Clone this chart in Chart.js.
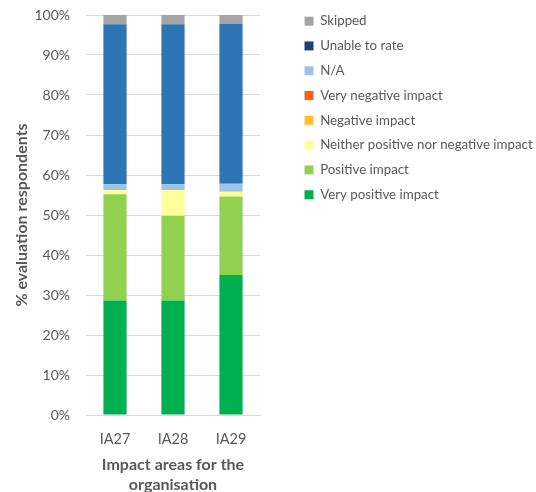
<!DOCTYPE html>
<html lang="en">
<head>
    <meta charset="UTF-8">
    <title>Impact areas for the organisation</title>
    <script src="https://cdn.jsdelivr.net/npm/chart.js"></script>
    <style>
        html, body { margin: 0; padding: 0; background: #fff; }
        #wrap { width: 536px; height: 492px; }
    </style>
</head>
<body>
    <div id="wrap"><canvas id="impactChart"></canvas></div>
    <script>
        // categories and series (% of evaluation respondents), bottom of the stack first
        const categories = ["IA27", "IA28", "IA29"];
        const veryPositive = [28.6, 28.6, 35.0];
        const positive = [26.6, 21.2, 19.6];
        const neither = [1.0, 6.4, 1.2];
        const negative = [0, 0, 0];
        const veryNegative = [0, 0, 0];
        const notApplicable = [1.5, 1.5, 2.0];
        const unableToRate = [40.0, 40.0, 40.0];
        const skipped = [2.3, 2.3, 2.3];
        const yTicks = [0, 10, 20, 30, 40, 50, 60, 70, 80, 90, 100];

        const seriesNames = ["Very positive impact", "Positive impact", "Neither positive nor negative impact",
            "Negative impact", "Very negative impact", "N/A", "Unable to rate", "Skipped"];
        const seriesValues = [veryPositive, positive, neither, negative, veryNegative, notApplicable, unableToRate, skipped];
        const barColors = ["#00b050", "#92d050", "#ffff99", "#ffc02b", "#ff5b1a", "#9dc3e6", "#2e75b6", "#a5a5a5"];
        const legendColors = ["#00b050", "#92d050", "#ffff99", "#ffc02b", "#ff5b1a", "#9dc3e6", "#203f7a", "#a5a5a5"];

        const fontFamily = "Lato, 'Open Sans', sans-serif";
        const textColor = "#595959";

        // put the legend next to the plot, like the original
        const legendPlace = {
            id: "legendPlace",
            beforeInit(chart) {
                const fit = chart.legend.fit;
                chart.legend.fit = function () {
                    fit.call(this);
                    this.width = 276;
                };
            },
            afterLayout(chart) {
                chart.legend.left += 33;
                chart.legend.right += 33;
                chart.legend.top += 3;
                chart.legend.bottom += 3;
            }
        };

        new Chart(document.getElementById("impactChart"), {
            type: "bar",
            data: {
                labels: categories,
                datasets: seriesNames.map((name, i) => ({
                    label: name,
                    data: seriesValues[i],
                    backgroundColor: barColors[i],
                    borderWidth: 0,
                    categoryPercentage: 1,
                    barPercentage: 0.4
                }))
            },
            options: {
                responsive: true,
                maintainAspectRatio: false,
                animation: false,
                layout: { padding: 0 },
                plugins: {
                    tooltip: { enabled: false },
                    legend: {
                        position: "right",
                        align: "start",
                        reverse: true,
                        labels: {
                            boxWidth: 9,
                            boxHeight: 9,
                            padding: 11.5,
                            color: textColor,
                            font: { family: fontFamily, size: 13.3 },
                            generateLabels(chart) {
                                const items = Chart.defaults.plugins.legend.labels.generateLabels(chart);
                                items.forEach(it => {
                                    it.fillStyle = legendColors[it.datasetIndex];
                                    it.strokeStyle = legendColors[it.datasetIndex];
                                    it.lineWidth = 0;
                                });
                                return items;
                            }
                        }
                    }
                },
                scales: {
                    x: {
                        stacked: true,
                        afterFit(axis) { axis.height = 77; },
                        grid: { display: false },
                        border: { color: "#d9d9d9" },
                        ticks: { color: textColor, font: { family: fontFamily, size: 14.5 }, padding: 8 },
                        title: {
                            display: true,
                            text: ["Impact areas for the", "organisation"],
                            color: textColor,
                            font: { family: fontFamily, size: 16, weight: "bold", lineHeight: 1.2 },
                            padding: { top: 0, bottom: -2 }
                        }
                    },
                    y: {
                        stacked: true,
                        min: 0,
                        max: 100,
                        afterFit(axis) {
                            axis.width = 86;
                            axis.paddingTop = 15;
                            axis.paddingBottom = 0;
                        },
                        afterBuildTicks(axis) {
                            axis.ticks = yTicks.map(v => ({ value: v }));
                        },
                        grid: { color: "#d9d9d9", drawTicks: false },
                        border: { display: false },
                        ticks: {
                            color: textColor,
                            font: { family: fontFamily, size: 14 },
                            padding: 16,
                            callback: v => v + "%"
                        },
                        title: {
                            display: true,
                            text: "% evaluation respondents",
                            color: textColor,
                            font: { family: fontFamily, size: 16, weight: "bold" },
                            padding: { top: 12, bottom: 0 }
                        }
                    }
                }
            },
            plugins: [legendPlace]
        });
    </script>
</body>
</html>
